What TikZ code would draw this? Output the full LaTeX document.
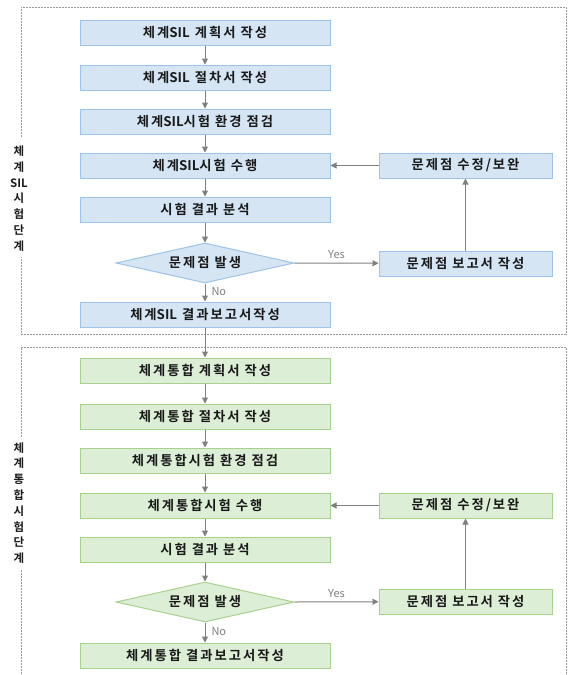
\documentclass[tikz,border=0pt]{standalone}
\usepackage{fontspec}
\setmainfont{Noto Sans CJK KR}[BoldFont={Noto Sans CJK KR Bold}]
\newfontfamily\boxfont{Noto Sans CJK KR}[BoldFont={Noto Sans CJK KR Bold}, LetterSpace=15]
\usetikzlibrary{shapes.geometric,arrows.meta}
\definecolor{bfill}{HTML}{D5E5F4}
\definecolor{bline}{HTML}{9DC3E6}
\definecolor{gfill}{HTML}{DCEED6}
\definecolor{gline}{HTML}{A9D18E}
\definecolor{arr}{HTML}{7F7F7F}
\definecolor{frame}{HTML}{999999}
\newcommand\silword{{\rmfamily SIL}}
\tikzset{
  base/.style={line width=1pt, inner sep=0pt, text=black!90,
    font=\boxfont\bfseries\fontsize{13.3}{15}\selectfont},
  bbox/.style={base, draw=bline, fill=bfill, minimum width=250pt, minimum height=25pt},
  gbox/.style={base, draw=gline, fill=gfill, minimum width=250pt, minimum height=25pt},
  brbox/.style={bbox, minimum width=173pt},
  grbox/.style={gbox, minimum width=173pt},
  bdia/.style={base, diamond, aspect=4.45, draw=bline, fill=bfill, minimum width=178pt, minimum height=40pt},
  gdia/.style={base, diamond, aspect=4.45, draw=gline, fill=gfill, minimum width=178pt, minimum height=40pt},
  conn/.style={draw=arr, line width=1pt, -{Triangle[length=6pt,width=6pt]}},
  lbl/.style={text=arr, font=\fontsize{11}{12}\selectfont, inner sep=0pt},
  frm/.style={draw=frame, line width=0.7pt, dash pattern=on 2pt off 1pt},
  side/.style={align=center, inner sep=0pt, text=black!90, font=\bfseries\fontsize{11.5}{15.8}\selectfont}
}
\begin{document}
\begin{tikzpicture}[x=1pt,y=-1pt]
\useasboundingbox (0,0) rectangle (568,675);
% frames
\draw[frm] (21,137) -- (21,7) -- (566,7) -- (566,334) -- (21,334) -- (21,257);
\draw[frm] (21,437) -- (21,347) -- (566,347) -- (566,675);
\draw[frm] (21,570) -- (21,675);
\node[side] (sl1) at (19,198.5) {체\\계\\SIL\\시\\험\\단\\계};
\node[side] (sl2) at (19,503) {체\\계\\통\\합\\시\\험\\단\\계};
% blue stage
\node[bbox] (b1) at (205,32.5) {체계\silword{} 계획서 작성};
\node[bbox] (b2) at (205,77.5) {체계\silword{} 절차서 작성};
\node[bbox] (b3) at (205,121.5) {체계\silword{}시험 환경 점검};
\node[bbox] (b4) at (205,165.5) {체계\silword{}시험 수행};
\node[bbox] (b5) at (205,209.5) {시험 결과 분석};
\node[bdia] (b6) at (205,263) {문제점 발생};
\node[bbox] (b7) at (205,314.5) {체계\silword{} 결과보고서작성};
\node[brbox] (br1) at (465.5,165.5) {문제점 수정/보완};
\node[brbox] (br2) at (465.5,263.5) {문제점 보고서 작성};
% green stage
\node[gbox] (g1) at (205,370.5) {체계통합 계획서 작성};
\node[gbox] (g2) at (205,416.5) {체계통합 절차서 작성};
\node[gbox] (g3) at (205,460.5) {체계통합시험 환경 점검};
\node[gbox] (g4) at (205,505.5) {체계통합시험 수행};
\node[gbox] (g5) at (205,549.5) {시험 결과 분석};
\node[gdia] (g6) at (205,602) {문제점 발생};
\node[gbox] (g7) at (205,655.5) {체계통합 결과보고서작성};
\node[grbox] (gr1) at (465.5,505.5) {문제점 수정/보완};
\node[grbox] (gr2) at (465.5,601.5) {문제점 보고서 작성};
% connectors blue
\draw[conn] (b1) -- (b2);
\draw[conn] (b2) -- (b3);
\draw[conn] (b3) -- (b4);
\draw[conn] (b4) -- (b5);
\draw[conn] (b5) -- (b6);
\draw[conn] (b6) -- node[lbl, right=6pt, pos=0.45] (no1) {No} (b7);
\draw[conn] (b6.east) -- node[lbl, above=4pt, pos=0.5] (yes1) {Yes} (br2);
\draw[conn] (br2) -- (br1);
\draw[conn] (br1) -- (b4);
\draw[conn] (b7) -- (g1);
% connectors green
\draw[conn] (g1) -- (g2);
\draw[conn] (g2) -- (g3);
\draw[conn] (g3) -- (g4);
\draw[conn] (g4) -- (g5);
\draw[conn] (g5) -- (g6);
\draw[conn] (g6) -- node[lbl, right=6pt, pos=0.45] (no2) {No} (g7);
\draw[conn] (g6.east) -- node[lbl, above=4pt, pos=0.5] (yes2) {Yes} (gr2);
\draw[conn] (gr2) -- (gr1);
\draw[conn] (gr1) -- (g4);
\end{tikzpicture}
\end{document}
